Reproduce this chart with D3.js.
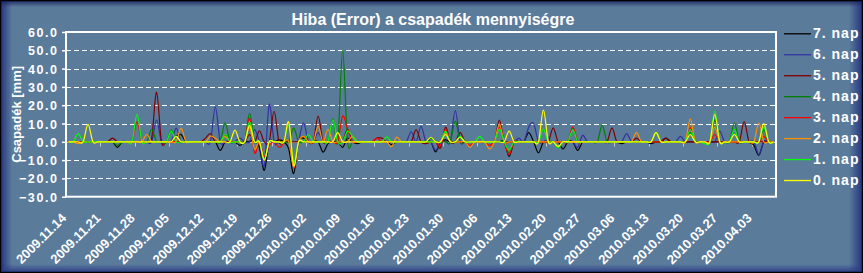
<!DOCTYPE html>
<html>
<head>
<meta charset="utf-8">
<script src="https://cdn.jsdelivr.net/npm/d3@7"></script>
<style>
  body { margin: 0; background: #fff; }
  svg { display: block; }
  text { fill: #fff; font-family: "Liberation Sans", Arial, sans-serif; font-weight: bold; }
</style>
</head>
<body>
<svg id="chart" width="863" height="273"></svg>
<script>
// categories: one per day, 2009.11.14 .. 2010.04.07
const firstDay = new Date(2009, 10, 14);
const lastDay = new Date(2010, 3, 8);
const fmt = d3.timeFormat("%Y.%m.%d");
const categories = d3.timeDay.range(firstDay, lastDay).map(fmt);

const tickLabels = ["2009.11.14", "2009.11.21", "2009.11.28", "2009.12.05", "2009.12.12",
  "2009.12.19", "2009.12.26", "2010.01.02", "2010.01.09", "2010.01.16", "2010.01.23",
  "2010.01.30", "2010.02.06", "2010.02.13", "2010.02.20", "2010.02.27", "2010.03.06",
  "2010.03.13", "2010.03.20", "2010.03.27", "2010.04.03"];
const yTicks = [60, 50, 40, 30, 20, 10, 0, -10, -20, -30];

const seriesNames = ["7. nap", "6. nap", "5. nap", "4. nap", "3. nap", "2. nap", "1. nap", "0. nap"];
const seriesColors = ["#000000", "#3333a0", "#800000", "#008000", "#ff0000", "#ff9000", "#00ff00", "#ffff00"];

const nap7 = [
  0,0,0,0,0,0,0,0,0,0,  -3,0,0,0,0,0,0,0,0,0,  0,0,3,4,0,0,0,0,0,0,
  0,-4.7,0,0,0,-2,0,0,1,-3,  -15.6,0,0,1,0,-4,-17.3,0,2,0,  0,0,-5.6,-1,0,0,-3,2,0,-1,
  0,0,0,0,0,0,-1.5,0,0,0,  0,0,0,0,0,-5.5,0,1,0,0,  0,0,0,0,0,0,0,0,0,0,
  -8,0,0,0,5,0,-6,0,0,0,  0,-4,0,0,-4.7,0,0,0,0,0,  0,0,0,-1,0,0,0,0,0,-1,
  0,0,2,0,0,0,0,0,0,0,  0,0,0,0,0,0,0,0,0,0,  -2,-7.3,0,0,0];
const nap6 = [
  0,0,0,0,0,0,0,0,0,0,  0,0,0,0,0,0,0,0,12,0,  0,0,7.5,0,0,0,0,0,0,0,
  19,0,0,0,0,2,0,0,6.7,0,  -13,20.4,0,0,0,0,-13,0,10.4,0,  0,5,0,0,0,0,0,0,0,0,
  0,0,0,0,0,0,0,0,0,0,  5.5,0,8.5,0,0,-4.7,0,0,0,17,  0,0,0,0,0,0,0,0,0,0,
  0,0,2,0,8,10,0,0,0,0,  0,0,0,0,-3,3.5,0,0,0,0,  0,0,0,0,4.5,0,0,0,0,0,
  0,0,0,0,0,3,0,0,0,0,  0,0,0,5.8,0,0,0,0,0,0,  0,-7,0,0,0];
const nap5 = [
  0,0,0,0,0,0,0,0,0,2,  0,0,0,0,0,0,0,2,27,0,  0,0,0,0,0,0,0,0,2,4.4,
  0,0,0,0,0,0,0,4,0,6,  0,0,16.7,0,0,0,0,0,0,0,  0,14,0,0,0,0,0,7,0,0,
  0,0,0,2,2,0,0,0,0,0,  0,6.7,0,-1,0,0,-3.3,8,0,0,  5,0,0,0,0,0,0,0,11.8,0,
  0,0,0,0,0,0,0,0,0,7.6,  0,0,0,0,0,0,0,0,0,0,  0,7.6,0,0,0,0,2,0,0,0,
  0,0,2,0,0,0,0,0,0,0,  0,0,0,0,0,0,0,0,11,0,  0,0,0,0,0];
const nap4 = [
  0,0,0,0,0,0,0,0,0,0,  -2,0,0,0,0,0,0,7,0,0,  0,6.5,0,0,0,0,0,0,0,0,
  0,0,10.4,0,0,0,0,15.5,0,0,  -9,0,0,0,0,0,7.6,0,0,0,  0,0,0,0,12.5,0,50,0,0,0,
  0,0,0,0,0,0,0,0,0,0,  0,0,0,0,2,0,0,0,0,11.3,  0,0,0,0,0,0,0,0,0,0,
  -6,0,0,0,0,0,0,0,0,0,  -3.3,0,0,7.6,0,0,0,0,0,9,  0,0,0,0,0,0,0,0,0,0,
  0,0,0,0,0,0,0,5,0,0,  0,0,12,0,0,0,10.4,0,0,0,  0,0,6.7,0,0];
const nap3 = [
  0,0,0,0,0,0,0,0,0,0,  0,0,0,0,11,0,0,0,0,0,  0,0,0,0,0,0,0,0,0,0,
  0,0,3.5,0,0,0,0,12.7,-6,0,  -8,-2,0,-3,0,10,-14,0,3,0,  0,0,0,0,0,0,14,7,0,0,
  0,0,0,2,0,0,0,0,0,0,  0,0,0,0,0,0,-2,6.7,0,0,  0,0,-2,0,0,0,-2,0,8,0,
  -7,0,0,0,0,0,0,0,0,0,  0,0,0,8.2,0,0,0,0,0,0,  0,0,0,0,0,0,0,0,0,0,
  0,0,0,0,0,0,0,7.6,0,0,  0,0,4,0,0,0,0,0,0,0,  0,0,3,0,0];
const nap2 = [
  0,0,-1,0,0,0,0,0,0,0,  0,0,0,0,0,0,4,0,0,0,  0,0,0,7.5,0,0,0,0,0,3,
  2,0,3,0,0,0,0,8,-4,0,  -10,0,0,0,0,0,-14,0,3,0,  0,8.5,0,7,0,0,0,0,3,0,
  0,0,0,0,0,0,-2.7,2.5,0,0,  0,0,0,0,0,0,0,5,0,0,  0,0,-3,0,0,0,-4,0,9.5,0,
  0,0,0,0,0,0,0,0,0,0,  0,0,0,0,0,0,0,0,0,0,  0,0,0,0,0,0,5,0,0,0,
  5,0,0,0,0,0,0,12.5,0,0,  0,0,8,0,0,0,0,0,0,0,  0,10.4,0,0,0];
const nap1 = [
  0,0,4.5,0,0,0,0,0,0,0,  0,0,0,0,15,0,0,0,0,0,  0,6,0,0,0,0,0,0,0,0,
  0,0,4,0,0,0,0,11,0,0,  -10,0,0,0,0,9,-11,0,0,4,  0,0,0,0,12,0,0,5.8,3,0,
  0,0,0,0,0,2.7,0,0,0,0,  0,0,0,0,0,0,0,5.8,0,0,  3,0,0,0,3,0,0,0,7,0,
  -4.5,0,0,0,0,0,0,7,0,0,  -3.3,0,0,6.7,0,0,0,0,0,0,  0,0,0,0,0,0,0,0,0,0,
  5,0,0,0,0,0,0,6.7,0,0,  -1,0,16.7,0,0,0,6.7,0,0,0,  0,0,8,0,0];
const nap0 = [
  0,0,0,0,9.5,0,0,0,0,0,  0,0,0,0,0,0,0,0,0,0,  0,0,3,0,0,0,0,0,0,0,
  0,0,0,0,6.4,0,0,9,0,0,  -10,0,0,0,0,10.7,-13,0,0,0,  0,0,0,0,0,5,0,0,0,0,
  0,0,0,0,0,0,0,0,0,0,  0,0,0,0,2.5,0,0,4,0,0,  2.5,0,0,0,0,0,0,0,0,0,
  5.8,0,0,0,0,0,0,17.3,0,0,  -2.5,0,0,0,0,0,0,0,0,0,  0,0,0,0,0,0,0,0,0,0,
  5,0,0,0,0,0,0,4,0,0,  0,0,15,0,0,0,4,0,0,0,  0,0,10,0,0];

const seriesValues = [nap7, nap6, nap5, nap4, nap3, nap2, nap1, nap0];

const W = 863, H = 273;
const plot = { left: 66, top: 32, right: 776, bottom: 196.7 };

const svg = d3.select("#chart");
const defs = svg.append("defs");

// background panel with dark blue shaded rim
svg.append("rect").attr("width", W).attr("height", H).attr("fill", "#5b7b9b");
function rim(id, x1, y1, x2, y2, color, rect) {
  const g = defs.append("linearGradient").attr("id", id)
    .attr("x1", x1).attr("y1", y1).attr("x2", x2).attr("y2", y2);
  g.append("stop").attr("offset", "0").attr("stop-color", color).attr("stop-opacity", 1);
  g.append("stop").attr("offset", "1").attr("stop-color", color).attr("stop-opacity", 0);
  svg.append("rect").attr("x", rect[0]).attr("y", rect[1]).attr("width", rect[2]).attr("height", rect[3])
    .attr("fill", `url(#${id})`);
}
rim("rimL", 0, 0, 1, 0, "#23307e", [0, 0, 12, H]);
rim("rimR", 1, 0, 0, 0, "#23307e", [W - 14, 0, 14, H]);
rim("rimT", 0, 0, 0, 1, "#1a2460", [0, 0, W, 7]);
rim("rimB", 0, 1, 0, 0, "#2a3a86", [0, H - 9, W, 9]);
svg.append("rect").attr("x", 0.5).attr("y", 0.5).attr("width", W - 1).attr("height", H - 1)
  .attr("fill", "none").attr("stroke", "#000").attr("stroke-width", 1.5);

// scales
const x = d3.scaleBand().domain(categories).range([plot.left, plot.right]).paddingInner(0).paddingOuter(0);
const y = d3.scaleLinear().domain([-30, 60]).range([plot.bottom, plot.top]);
const cx = i => x(categories[i]) + x.bandwidth() / 2;

// gridlines
svg.append("g").selectAll("line").data(yTicks.filter(v => v !== 0 && v !== 60 && v !== -30)).join("line")
  .attr("x1", plot.left).attr("x2", plot.right)
  .attr("y1", d => Math.round(y(d)) + 0.5).attr("y2", d => Math.round(y(d)) + 0.5)
  .attr("stroke", "#fff").attr("stroke-width", 1).attr("stroke-dasharray", "5,3");

// y axis (ticks and labels)
const yAxis = d3.axisLeft(y).tickValues(yTicks).tickSize(4).tickPadding(5).tickFormat(d3.format(".1f"));
const ya = svg.append("g").attr("transform", `translate(${plot.left},0)`).call(yAxis);
ya.select(".domain").remove();
ya.selectAll(".tick line").attr("stroke", "#fff").attr("stroke-width", 1.5);
ya.selectAll(".tick text").attr("fill", "#fff").attr("font-size", 12.5)
  .attr("font-family", "Liberation Sans, Arial, sans-serif").attr("font-weight", "bold")
  .style("letter-spacing", "1.6px").attr("dx", 1.6).attr("dy", "0.36em");

// zero line with category ticks
const zeroY = Math.round(y(0)) + 0.5;
svg.append("line").attr("x1", plot.left).attr("x2", plot.right).attr("y1", zeroY).attr("y2", zeroY)
  .attr("stroke", "#c8c8c8").attr("stroke-width", 1);
svg.append("g").selectAll("line").data(tickLabels).join("line")
  .attr("x1", d => Math.round(x(d)) + 0.5).attr("x2", d => Math.round(x(d)) + 0.5)
  .attr("y1", zeroY).attr("y2", zeroY + 4)
  .attr("stroke", "#c8c8c8").attr("stroke-width", 1);

// x labels
svg.append("g").selectAll("text").data(tickLabels).join("text")
  .attr("transform", d => `translate(${x(d) + 1},219) rotate(-45)`)
  .attr("text-anchor", "end").attr("font-size", 13).text(d => d);

// series lines (smoothed like the original)
const line = d3.line().x((d, i) => cx(i)).y(d => y(d)).curve(d3.curveCardinal.tension(0));
svg.append("g").selectAll("path").data(seriesValues).join("path")
  .attr("d", d => line(d))
  .attr("fill", "none")
  .attr("stroke", (d, i) => seriesColors[i])
  .attr("stroke-width", 1.2)
  .attr("stroke-linejoin", "round");

// plot border
svg.append("rect").attr("x", plot.left).attr("y", plot.top)
  .attr("width", plot.right - plot.left).attr("height", plot.bottom - plot.top)
  .attr("fill", "none").attr("stroke", "#fff").attr("stroke-width", 2);

// title and axis title
svg.append("text").attr("x", 433).attr("y", 25).attr("text-anchor", "middle")
  .attr("font-size", 16).text("Hiba (Error) a csapadék mennyiségre");
svg.append("text").attr("transform", `translate(21,${(plot.top + plot.bottom) / 2}) rotate(-90)`)
  .attr("text-anchor", "middle").attr("font-size", 13).text("Csapadék [mm]");

// legend
const lg = svg.append("g").selectAll("g").data(seriesNames).join("g")
  .attr("transform", (d, i) => `translate(0,${33.3 + i * 20.96})`);
lg.append("line").attr("x1", 784).attr("x2", 811).attr("y1", 0.5).attr("y2", 0.5)
  .attr("stroke", (d, i) => seriesColors[i]).attr("stroke-width", 1.3);
lg.append("text").attr("x", 813).attr("y", 5).attr("font-size", 14)
  .style("letter-spacing", "1px").text(d => d);
</script>
</body>
</html>
